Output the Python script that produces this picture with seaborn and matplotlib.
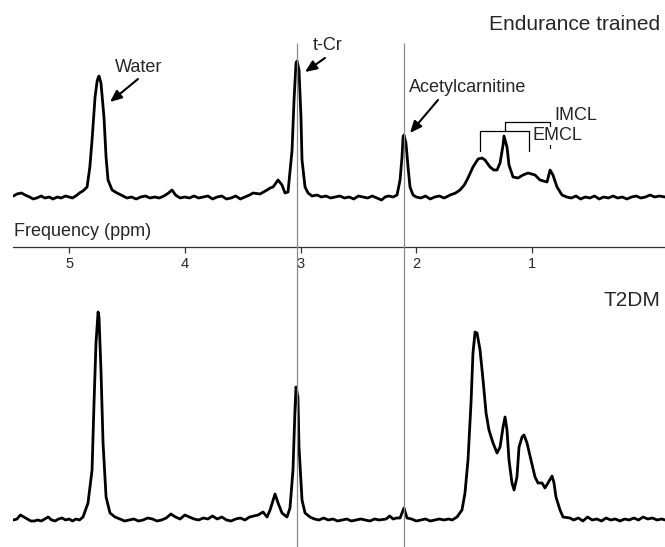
import matplotlib
matplotlib.use("Agg")
import matplotlib.pyplot as plt
import seaborn as sns
import pandas as pd

# ---------------- data ----------------
# Endurance trained spectrum: chemical shift (ppm) and signal intensity (a.u.)
top_ppm = [5.48, 5.45, 5.41, 5.38, 5.34, 5.31, 5.28, 5.24, 5.21, 5.17, 5.14, 5.10, 5.07, 5.03, 5.00,
           4.97, 4.93, 4.91, 4.88,
           4.844, 4.82, 4.801, 4.775, 4.757, 4.749, 4.741, 4.724, 4.698, 4.680, 4.663, 4.628, 4.585,
           4.55, 4.50, 4.46, 4.42, 4.38, 4.34, 4.30, 4.26, 4.22, 4.18, 4.14, 4.11, 4.08, 4.04, 4.00,
           3.96, 3.92, 3.88, 3.84, 3.80, 3.76, 3.72, 3.68, 3.64, 3.60, 3.56, 3.52, 3.48, 3.44,
           3.410, 3.35, 3.289, 3.263, 3.237, 3.194, 3.160, 3.134, 3.108,
           3.073, 3.056, 3.039, 3.030, 3.013, 2.996, 2.987, 2.961, 2.935, 2.90, 2.857,
           2.82, 2.78, 2.74, 2.70, 2.66, 2.62, 2.58, 2.54, 2.50, 2.46, 2.42, 2.38, 2.34, 2.30, 2.27,
           2.24, 2.20,
           2.166, 2.140, 2.123, 2.114, 2.106, 2.089, 2.071, 2.054, 2.028,
           2.00, 1.96, 1.92, 1.88, 1.84, 1.80, 1.76, 1.74,
           1.708, 1.66, 1.622, 1.585, 1.553, 1.510, 1.466, 1.432, 1.406, 1.363, 1.330, 1.302, 1.276,
           1.250, 1.242, 1.216, 1.199, 1.164, 1.121, 1.078, 1.034, 0.974, 0.931, 0.870, 0.844,
           0.819, 0.784, 0.741,
           0.70, 0.66, 0.62, 0.58, 0.54, 0.50, 0.46, 0.42, 0.38, 0.34, 0.30, 0.26, 0.22, 0.18,
           0.14, 0.10, 0.06, 0.02, -0.02, -0.06, -0.10, -0.15]
top_int = [1, 3, 4, 2, 0, -2, -1, 1, -1, 0, -2, 0, -1, 1, 0,
           -1, 2, 4, 6,
           10, 30, 57, 100, 116, 119, 121, 114, 80, 40, 17, 7, 4,
           2, -1, 0, -2, 0, 1, -1, 0, -1, 1, 4, 7, 2, -1, 0,
           -1, 1, -1, 0, 1, -2, 0, 1, -2, -1, 1, -2, 0, 2,
           4, 3, 7, 9, 10, 17, 12, 4, 5,
           47, 97, 134, 136, 127, 80, 37, 10, 4, 1, 2,
           0, 1, -1, 0, 1, -1, 0, -2, 1, 0, -1, 1, -1, -3, 0,
           1, 0,
           2, 17, 40, 60, 62, 54, 30, 10, 2,
           0, -1, 1, -2, 0, 1, -1, 0,
           2, 4, 7, 12, 19, 30, 38, 39, 37, 30, 27, 27, 34,
           52, 61, 50, 32, 20, 19, 22, 24, 22, 17, 15, 27,
           22, 10, 2,
           0, -1, 1, -2, 0, -1, 1, -2, 0, -1, 1, -1, 0, -2,
           0, 1, -1, 0, 2, 0, 1, 0]

# T2DM spectrum
bot_ppm = [5.48, 5.45, 5.42, 5.39, 5.36, 5.33, 5.30, 5.27, 5.24, 5.21, 5.18, 5.15, 5.12, 5.09, 5.06,
           5.03, 5.00, 4.97, 4.94, 4.91,
           4.879, 4.836, 4.801, 4.784, 4.767, 4.749, 4.741, 4.724, 4.706, 4.680, 4.646, 4.603,
           4.56, 4.52, 4.48, 4.44, 4.40, 4.36, 4.32, 4.28, 4.24, 4.20, 4.16, 4.12, 4.08, 4.04, 4.00,
           3.96, 3.92, 3.88, 3.84, 3.80, 3.76, 3.72, 3.68, 3.64, 3.60, 3.56, 3.52, 3.48, 3.44,
           3.367, 3.324, 3.289, 3.263, 3.220, 3.194, 3.160, 3.117, 3.091,
           3.065, 3.048, 3.039, 3.022, 3.013, 2.987, 2.961, 2.918,
           2.88, 2.84, 2.80, 2.76, 2.72, 2.68, 2.64, 2.60, 2.56, 2.52, 2.48, 2.44, 2.40, 2.36, 2.32,
           2.26, 2.23, 2.20, 2.17,
           2.140, 2.106, 2.080,
           2.04, 2.00, 1.96, 1.92, 1.88, 1.84, 1.80, 1.76, 1.72,
           1.690, 1.648, 1.605, 1.579, 1.553, 1.527, 1.510, 1.492, 1.475, 1.449, 1.423, 1.397,
           1.372, 1.337, 1.302, 1.276, 1.250, 1.233, 1.216, 1.199, 1.173, 1.155, 1.130, 1.112,
           1.086, 1.069, 1.043, 1.009, 0.974, 0.948, 0.913, 0.888, 0.862, 0.827, 0.810, 0.793,
           0.758, 0.732, 0.672,
           0.64, 0.60, 0.56, 0.52, 0.48, 0.44, 0.40, 0.36, 0.32, 0.28, 0.24, 0.20, 0.16, 0.12,
           0.08, 0.04, 0.00, -0.04, -0.08, -0.12, -0.15]
bot_int = [0, 1, 5, 3, 1, -1, -1, 0, -1, 1, 3, 0, -1, 1, 2,
           0, 1, -1, 1, 0,
           3, 17, 50, 117, 177, 208, 203, 150, 77, 23, 7, 3,
           1, -1, 0, 1, -1, 0, 2, 1, -1, 0, 2, 6, 3, 1, 5,
           3, 1, 0, 2, 1, 4, 1, 3, 0, -1, 1, 2, 0, 3,
           5, 8, 3, 10, 26, 17, 7, 3, 12,
           50, 110, 133, 123, 73, 20, 7, 3,
           1, 0, 2, 0, 1, -1, 0, 1, -1, 0, 1, 0, -1, 1, 0,
           1, 4, 1, 2,
           2, 12, 2,
           1, -1, 0, 1, -1, 0, 1, 0, 1,
           0, 3, 10, 27, 60, 117, 167, 188, 187, 170, 140, 107,
           90, 77, 67, 73, 93, 103, 90, 60, 37, 30, 43, 73,
           83, 85, 77, 60, 43, 37, 37, 32, 37, 44, 37, 23,
           10, 3, 2,
           0, 2, -1, 3, 0, 1, -1, 2, 0, 1, -1, 1, 0, 2,
           0, 3, 1, 2, 0, 1, 0]

tick_ppm = [5, 4, 3, 2, 1]
tick_labels = ["5", "4", "3", "2", "1"]
ref_ppm = [3.03, 2.11]          # t-Cr and acetylcarnitine reference lines
titles = ["Endurance trained", "T2DM"]

# ---------------- figure ----------------
sns.set_style("white")
plt.rcParams["font.family"] = ["Liberation Sans", "DejaVu Sans"]

W, H = 665, 547
fig = plt.figure(figsize=(W / 100, H / 100), dpi=100)

X_L, X_R = 13, 665
PPM_L, PPM_R = 5.484, -0.149


def fb(y0, y1):
    """axes rectangle from pixel rows y0 (top) .. y1 (bottom)"""
    return [X_L / W, 1 - y1 / H, (X_R - X_L) / W, (y1 - y0) / H]


ax_top = fig.add_axes(fb(0, 247))
ax_bot = fig.add_axes(fb(250, 547))

df_top = pd.DataFrame({"ppm": top_ppm, "intensity": top_int})
df_bot = pd.DataFrame({"ppm": bot_ppm, "intensity": bot_int})

sns.lineplot(data=df_top, x="ppm", y="intensity", ax=ax_top, color="black",
             lw=2.0, sort=False, estimator=None)
sns.lineplot(data=df_bot, x="ppm", y="intensity", ax=ax_bot, color="black",
             lw=2.0, sort=False, estimator=None)

for ax in (ax_top, ax_bot):
    ax.set_xlim(PPM_L, PPM_R)
    ax.set_xlabel("")
    ax.set_ylabel("")
    ax.set_yticks([])
    ax.patch.set_alpha(0)
    for s in ("top", "left", "right"):
        ax.spines[s].set_visible(False)

ax_top.set_ylim(-50, 197)
ax_bot.set_ylim(-27, 270)
ax_bot.spines["bottom"].set_visible(False)
ax_bot.set_xticks([])

ax_top.spines["bottom"].set_color("#333333")
ax_top.spines["bottom"].set_linewidth(0.9)
ax_top.set_xticks(tick_ppm)
ax_top.set_xticklabels(tick_labels, fontsize=10.5)
ax_top.tick_params(axis="x", direction="out", length=4, width=0.9, pad=3,
                   color="#333333", bottom=True)

# overlay for reference lines (ppm x, pixel y)
ov = fig.add_axes([0, 0, 1, 1])
ov.set_xlim(PPM_L + X_L / 115.75, PPM_R)
ov.set_ylim(H, 0)
ov.axis("off")
ov.patch.set_alpha(0)
ov.vlines(ref_ppm, 43, H, color="#8a8a8a", lw=0.9)


def fp(x, y):
    return (x, H - y)


txt = dict(xycoords="figure pixels", textcoords="figure pixels", fontsize=13)

fig.text(660 / W, 1 - 24 / H, titles[0], ha="right", va="center", fontsize=15)
fig.text(660 / W, 1 - 300 / H, titles[1], ha="right", va="center", fontsize=15)
fig.text(14 / W, 1 - 231 / H, "Frequency (ppm)", ha="left", va="center", fontsize=13)

arrow = dict(arrowstyle="-|>,head_length=0.7,head_width=0.3", color="black", lw=1.5,
             shrinkA=0, shrinkB=0)
ov.annotate("", xy=fp(110, 102), xytext=fp(138, 79), arrowprops=arrow,
            xycoords="figure pixels", textcoords="figure pixels")
ov.annotate("", xy=fp(305, 72), xytext=fp(325, 58), arrowprops=arrow,
            xycoords="figure pixels", textcoords="figure pixels")
ov.annotate("", xy=fp(410, 133), xytext=fp(438, 100), arrowprops=arrow,
            xycoords="figure pixels", textcoords="figure pixels")

fig.text(139 / W, 1 - 67 / H, "Water", ha="center", va="center", fontsize=13)
fig.text(313 / W, 1 - 46 / H, "t-Cr", ha="left", va="center", fontsize=13)
fig.text(409 / W, 1 - 88 / H, "Acetylcarnitine", ha="left", va="center", fontsize=13)

# brackets (pixel layout)
def bracket(pts):
    xs = [p[0] / W for p in pts]
    ys = [1 - p[1] / H for p in pts]
    fig.add_artist(plt.Line2D(xs, ys, color="black", lw=0.9, transform=fig.transFigure))


bracket([(480, 151), (480, 131), (529, 131), (529, 151)])
bracket([(505, 131), (505, 122), (550, 122), (550, 148)])
fig.text(554 / W, 1 - 116 / H, "IMCL", ha="left", va="center", fontsize=13)
fig.text(532 / W, 1 - 136 / H, "EMCL", ha="left", va="center", fontsize=13,
         bbox=dict(facecolor="white", edgecolor="none", pad=0.5))

fig.savefig("out.png", dpi=100)
